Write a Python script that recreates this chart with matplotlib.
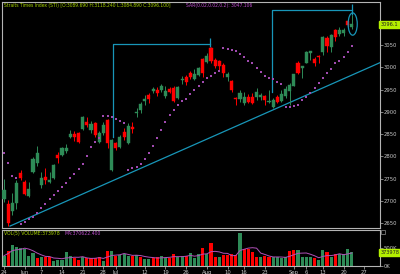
import matplotlib
matplotlib.use("Agg")
import matplotlib.pyplot as plt
from matplotlib.patches import Ellipse, Rectangle
import numpy as np
import pandas as pd

# Straits Times Index, daily bars 24 May - 22 Sep
opens = [2705, 2694, 2678, 2696, 2763, 2743, 2711, 2765, 2786, 2736,
         2754, 2743, 2752, 2803, 2803, 2812, 2844, 2851, 2853, 2862,
         2877, 2859, 2875, 2833, 2853, 2882, 2770, 2830, 2821, 2855,
         2830, 2866, 2898, 2904, 2924, 2938, 2947, 2949, 2949, 2936,
         2951, 2954, 2931, 2972, 2978, 2987, 2974, 2983, 3019, 3012,
         3043, 3016, 3014, 3005, 2978, 2969, 2931, 2929, 2920, 2933,
         2933, 2933, 2933, 2936, 2922, 2911, 2933, 2924, 2935, 2947,
         2959, 3010, 2998, 3010, 3032, 3019, 3025, 3034, 3066, 3046,
         3084, 3075, 3076, 3104, 3089.69]
highs = [2750, 2702, 2718, 2747, 2770, 2747, 2743, 2799, 2824, 2765,
         2774, 2765, 2784, 2810, 2821, 2828, 2859, 2857, 2855, 2891,
         2889, 2880, 2877, 2857, 2877, 2884, 2839, 2833, 2848, 2864,
         2875, 2877, 2909, 2922, 2938, 2942, 2956, 2956, 2963, 2958,
         2956, 2958, 2958, 2981, 2983, 2992, 2996, 3001, 3021, 3032,
         3046, 3021, 3016, 3010, 2990, 2972, 2934, 2949, 2945, 2940,
         2942, 2954, 2942, 2938, 2949, 2931, 2938, 2949, 2958, 2965,
         2985, 3013, 3004, 3036, 3037, 3023, 3028, 3070, 3070, 3075,
         3086, 3090, 3088, 3108, 3118.24]
lows = [2698, 2644, 2669, 2682, 2747, 2714, 2709, 2763, 2779, 2729,
        2738, 2741, 2749, 2786, 2801, 2808, 2842, 2835, 2830, 2859,
        2866, 2853, 2844, 2830, 2848, 2819, 2768, 2815, 2819, 2837,
        2828, 2853, 2889, 2898, 2916, 2920, 2942, 2936, 2945, 2931,
        2942, 2922, 2929, 2963, 2960, 2974, 2972, 2981, 2978, 3010,
        3010, 2998, 2994, 2978, 2970, 2945, 2916, 2922, 2916, 2920,
        2918, 2927, 2927, 2916, 2920, 2909, 2920, 2922, 2931, 2915,
        2957, 2985, 2976, 3009, 3016, 3004, 3010, 3028, 3034, 3034,
        3060, 3070, 3070, 3090, 3084.89]
closes = [2725, 2651, 2696, 2741, 2752, 2716, 2727, 2794, 2808, 2752,
          2747, 2747, 2781, 2797, 2819, 2819, 2851, 2844, 2833, 2889,
          2871, 2873, 2848, 2853, 2871, 2830, 2837, 2819, 2844, 2844,
          2868, 2862, 2900, 2918, 2929, 2929, 2951, 2942, 2958, 2947,
          2945, 2924, 2956, 2974, 2967, 2978, 2985, 2998, 2987, 3025,
          3014, 3003, 3003, 2987, 2985, 2949, 2929, 2942, 2933, 2922,
          2920, 2945, 2938, 2927, 2924, 2927, 2922, 2940, 2951, 2960,
          2984, 2988, 3003, 3034, 3037, 3010, 3023, 3068, 3048, 3072,
          3068, 3084, 3083, 3095, 3096.1]
sar = [2808, 2786, 2756, 2752, 2649, 2653, 2660, 2664, 2673, 2685,
       2694, 2705, 2714, 2723, 2732, 2741, 2752, 2761, 2772, 2783,
       2801, 2821, 2833, 2841, 2891, 2891, 2889, 2884, 2880, 2875,
       2770, 2774, 2777, 2783, 2794, 2807, 2824, 2842, 2859, 2878,
       2893, 2904, 2916, 2925, 2929, 2940, 2949, 2958, 2968, 2977,
       2981, 2987, 2992, 3043, 3041, 3039, 3037, 3030, 3024, 3015,
       3009, 2999, 2990, 2981, 2976, 2974, 2968, 2962, 2910, 2912,
       2913, 2916, 2927, 2934, 2942, 2953, 2964, 2975, 2987, 2996,
       3009, 3013, 3024, 3035, 3047.1]
volumes = [278, 408, 575, 528, 482, 463, 278, 343, 204, 232,
           250, 250, 139, 167, 167, 371, 278, 204, 158, 250,
           204, 204, 222, 250, 139, 408, 408, 278, 297, 315,
           278, 278, 297, 250, 185, 185, 222, 232, 278, 222,
           222, 315, 232, 278, 278, 343, 204, 315, 482, 315,
           648, 250, 232, 297, 297, 315, 297, 927, 463, 463,
           371, 232, 232, 278, 250, 232, 232, 222, 232, 408,
           436, 436, 250, 250, 232, 222, 158, 436, 371, 232,
           315, 315, 315, 463, 373.978]
vol_up = [1, 0, 1, 1, 1, 1, 1, 1, 0, 1, 0, 0, 1, 1, 1, 1, 1, 0, 0, 1,
          0, 0, 0, 0, 1, 0, 1, 0, 1, 1, 1, 0, 1, 0, 1, 1, 0, 0, 1, 1,
          0, 0, 1, 1, 0, 1, 1, 1, 0, 1, 0, 0, 1, 0, 0, 0, 0, 1, 0, 0,
          0, 0, 1, 0, 0, 1, 1, 1, 1, 0, 0, 1, 1, 1, 1, 0, 1, 1, 0, 1,
          0, 1, 1, 1, 1]

tick_pos = [0, 5, 9, 14, 19, 24, 27, 34, 39, 44, 49, 54, 58, 63, 70, 73, 77, 82, 87]
tick_lab = ["24", "Jun", "7", "14", "21", "28", "Jul", "12", "19", "26",
            "Aug", "10", "16", "23", "Sep", "6", "13", "20", "27"]
price_ticks = [2650, 2700, 2750, 2800, 2850, 2900, 2950, 3000, 3050, 3100]

# hand-drawn annotations (index, price)
bracket1 = ([26.3, 26.3, 49.8, 49.8], [2844, 3052, 3052, 3065])
bracket1_tick = 3045
bracket2 = ([64.7, 64.7, 84.1, 84.1], [2945, 3128.5, 3128.5, 3142])
bracket2_top = 3142
bracket2_tick = 3117
trend_x = [1.45, 90.7]
trend_y = [2644, 3010]

GREEN = "#2e8b57"
RED = "#ff0000"
CYAN = "#1896b8"
GRID = "#b4b4b4"
TXT = "#c8c8c8"

df = pd.DataFrame({"o": opens, "h": highs, "l": lows, "c": closes,
                   "v": np.array(volumes) * 1000})
df["ma"] = df["v"].rolling(5, min_periods=1).mean()
idx = np.arange(len(df))
up = df["c"] >= df["o"]
cols = np.where(up, GREEN, RED)

fig = plt.figure(figsize=(4.0, 2.74), dpi=100, facecolor="black")
ax = fig.add_axes([0.005, 0.1668, 0.944, 0.8277], facecolor="black")
axv = fig.add_axes([0.005, 0.0303, 0.944, 0.1303], facecolor="black")

# candles
ax.vlines(idx, df["l"], df["h"], colors=cols, linewidth=0.7, zorder=3)
body = (df["c"] - df["o"]).abs().clip(lower=1.5)
ax.bar(idx, body, bottom=np.minimum(df["o"], df["c"]), width=0.75,
       color=cols, edgecolor=cols, linewidth=0.3, zorder=4)

# parabolic SAR
ax.scatter(idx, sar, marker="s", s=0.9, color="#a04ab0", linewidths=0, zorder=5)

# trend line + brackets
ax.plot(trend_x, trend_y, color=CYAN, linewidth=0.9, zorder=2)
ax.plot(bracket1[0][:3], bracket1[1][:3], color=CYAN, linewidth=0.9, zorder=2)
ax.vlines(bracket1[0][3], bracket1_tick, bracket1[1][3], color=CYAN, linewidth=0.9)
ax.plot(bracket2[0][:3], bracket2[1][:3], color=CYAN, linewidth=0.9, zorder=2)
ax.vlines(bracket2[0][3], bracket2_tick, bracket2_top, color=CYAN, linewidth=0.9)
ax.add_patch(Ellipse((84.2, 3097), 2.2, 50, fill=False, edgecolor=CYAN, linewidth=0.9, zorder=6))

ax.set_xlim(-0.48, 90.7)
ax.set_ylim(2639, 3147.5)
ax.set_yticks(price_ticks)
# the top label sits under the price tag, as in the original
ax.set_yticklabels([str(p) for p in price_ticks[:-1]] + [""])
ax.yaxis.tick_right()
ax.tick_params(axis="y", colors=GRID, labelcolor=TXT, labelsize=3.8, length=2, width=0.5, pad=1)
ax.set_xticks([])
for s in ax.spines.values():
    s.set_color(GRID)
    s.set_linewidth(0.8)

ax.text(0.004, 0.994, "Straits Times Index (STI) [O:3089.690 H:3118.240 L:3084.890 C:3096.100]",
        transform=ax.transAxes, color="#a8d400", fontsize=3.25, va="top", ha="left")
ax.text(0.488, 0.994, "SAR(0.02,0.02,0.2): 3047.106", transform=ax.transAxes,
        color="#c050d0", fontsize=3.25, va="top", ha="left")
ax.text(1.003, closes[-1], "3096.1", transform=ax.get_yaxis_transform(), color="#202020",
        fontsize=3.6, va="center", ha="left",
        bbox=dict(boxstyle="square,pad=0.25", fc="#b4f000", ec="#b4f000"), zorder=10)

# volume
vcols = np.where(np.array(vol_up) == 1, GREEN, RED)
axv.bar(idx, df["v"], width=0.75, color=vcols, linewidth=0)
axv.plot(idx, df["ma"], color="#b050b8", linewidth=0.7)
axv.set_xlim(-0.48, 90.7)
axv.set_ylim(0, 1000000)
axv.yaxis.tick_right()
axv.set_yticks([0, 500000])
axv.set_yticklabels(["0K", "500K"])
axv.tick_params(axis="y", colors=GRID, labelcolor=TXT, labelsize=3.8, length=2, width=0.5, pad=1)
axv.set_xticks(tick_pos)
axv.set_xticklabels(tick_lab)
axv.tick_params(axis="x", colors=GRID, labelcolor=TXT, labelsize=3.8, length=2, width=0.5, pad=1)
for s in axv.spines.values():
    s.set_color(GRID)
    s.set_linewidth(0.8)
axv.text(0.004, 0.97, "VOL(5) VOLUME:373978", transform=axv.transAxes,
         color="#a8d400", fontsize=3.3, va="top", ha="left")
axv.text(0.165, 0.97, "MA:370622.400", transform=axv.transAxes,
         color="#c050d0", fontsize=3.3, va="top", ha="left")
axv.text(1.003, df["v"].iloc[-1], "373978", transform=axv.get_yaxis_transform(), color="#202020",
         fontsize=3.6, va="center", ha="left",
         bbox=dict(boxstyle="square,pad=0.25", fc="#b4f000", ec="#b4f000"), zorder=10)
fig.add_artist(Rectangle((381 / 400, 1 - 234 / 274), 4 / 400, 4 / 274, transform=fig.transFigure,
                         fill=False, edgecolor="#909090", linewidth=0.5))

fig.savefig("out.png", dpi=100, facecolor="black")
